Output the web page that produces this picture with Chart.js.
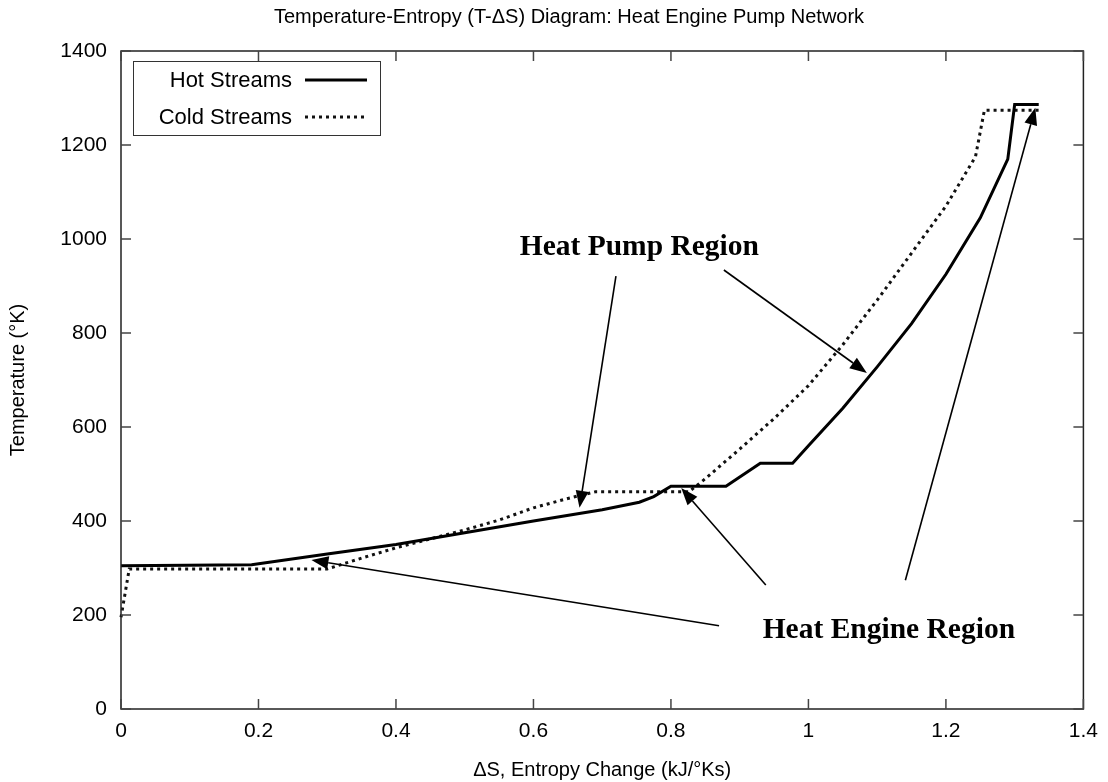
<!DOCTYPE html>
<html><head><meta charset="utf-8">
<script src="https://cdn.jsdelivr.net/npm/chart.js@4/dist/chart.umd.min.js"></script>
<style>html,body{margin:0;padding:0;background:#fff}#wrap{width:1108px;height:782px}</style>
</head><body><div id="wrap"><canvas id="c" width="1108" height="782"></canvas></div>
<script>
// ---- data ----
const seriesNames = ['Hot Streams', 'Cold Streams'];
const hotS = [0, 0.19, 0.3, 0.4, 0.5, 0.6, 0.7, 0.754, 0.775, 0.8, 0.88, 0.93, 0.977, 1.0, 1.05, 1.1, 1.15, 1.2, 1.25, 1.29, 1.30, 1.335];
const hotT = [305, 307, 330, 350, 375, 400, 424, 440, 452, 474, 474, 523, 523, 560, 640, 728, 820, 925, 1045, 1170, 1286, 1286];
const coldS = [0, 0.012, 0.3, 0.35, 0.4, 0.45, 0.5, 0.55, 0.6, 0.65, 0.69, 0.826, 0.85, 0.9, 0.95, 1.0, 1.05, 1.1, 1.15, 1.2, 1.243, 1.256, 1.335];
const coldT = [195, 298, 298, 321, 343, 362, 381, 402, 428, 448, 462, 462, 490, 553, 618, 688, 775, 870, 970, 1070, 1175, 1274, 1274];
const xTicks = [0, 0.2, 0.4, 0.6, 0.8, 1.0, 1.2, 1.4];
const xTickLabels = ['0', '0.2', '0.4', '0.6', '0.8', '1', '1.2', '1.4'];
const yTicks = [0, 200, 400, 600, 800, 1000, 1200, 1400];
const yTickLabels = ['0', '200', '400', '600', '800', '1000', '1200', '1400'];
const chartTitle = 'Temperature-Entropy (T-\u0394S) Diagram: Heat Engine Pump Network';
const xTitle = '\u0394S, Entropy Change (kJ/\u00B0Ks)';
const yTitle = 'Temperature (\u00B0K)';
// annotation labels & arrows (in data coordinates)
const noteLabels = [
  {text: 'Heat Pump Region', s: 0.754, t: 983},
  {text: 'Heat Engine Region', s: 1.117, t: 168}
];
const noteArrows = [
  {from: [0.720, 921], to: [0.667, 428]},
  {from: [0.877, 934], to: [1.085, 715]},
  {from: [0.870, 177], to: [0.277, 317]},
  {from: [0.938, 264], to: [0.815, 470]},
  {from: [1.141, 274], to: [1.330, 1279]}
];

const SANS = '"Liberation Sans", Arial, Helvetica, sans-serif';
const SERIF = '"Liberation Serif", "Times New Roman", serif';
const FS = 21;

const framePlugin = {
  id: 'frame',
  afterDatasetsDraw(chart) {
    const {ctx, chartArea: a, scales: {x, y}} = chart;
    ctx.save();
    // title
    ctx.font = '20px ' + SANS;
    ctx.fillStyle = '#000';
    ctx.textAlign = 'center';
    ctx.textBaseline = 'middle';
    ctx.fillText(chartTitle, 569, 17);
    // frame
    ctx.strokeStyle = '#222';
    ctx.lineWidth = 1.5;
    ctx.strokeRect(a.left, a.top, a.right - a.left, a.bottom - a.top);
    // inward ticks on all sides
    ctx.strokeStyle = '#444';
    ctx.lineWidth = 1.5;
    ctx.beginPath();
    const TL = 10;
    xTicks.forEach(v => {
      const px = x.getPixelForValue(v);
      ctx.moveTo(px, a.bottom); ctx.lineTo(px, a.bottom - TL);
      ctx.moveTo(px, a.top); ctx.lineTo(px, a.top + TL);
    });
    yTicks.forEach(v => {
      const py = y.getPixelForValue(v);
      ctx.moveTo(a.left, py); ctx.lineTo(a.left + TL, py);
      ctx.moveTo(a.right, py); ctx.lineTo(a.right - TL, py);
    });
    ctx.stroke();

    // legend
    const lx = a.left + 12, ly = a.top + 10, lw = 247, lh = 74;
    ctx.fillStyle = '#fff';
    ctx.fillRect(lx, ly, lw, lh);
    ctx.strokeStyle = '#333';
    ctx.lineWidth = 1;
    ctx.strokeRect(lx + 0.5, ly + 0.5, lw, lh);
    ctx.font = '22px ' + SANS;
    ctx.fillStyle = '#000';
    ctx.textAlign = 'right';
    ctx.textBaseline = 'middle';
    const rows = [ly + 19, ly + 56];
    chart.data.datasets.forEach((ds, i) => {
      ctx.fillText(ds.label, lx + 159, rows[i] + 1);
      ctx.save();
      ctx.strokeStyle = ds.borderColor;
      ctx.lineWidth = ds.borderWidth;
      ctx.setLineDash(ds.borderDash || []);
      ctx.beginPath();
      ctx.moveTo(lx + 172, rows[i]);
      ctx.lineTo(lx + 234, rows[i]);
      ctx.stroke();
      ctx.restore();
    });

    // annotations
    ctx.font = 'bold 29.5px ' + SERIF;
    ctx.textAlign = 'center';
    ctx.textBaseline = 'middle';
    ctx.fillStyle = '#000';
    noteLabels.forEach(n => ctx.fillText(n.text, x.getPixelForValue(n.s), y.getPixelForValue(n.t)));
    ctx.strokeStyle = '#000';
    ctx.lineWidth = 1.6;
    noteArrows.forEach(ar => {
      const x0 = x.getPixelForValue(ar.from[0]), y0 = y.getPixelForValue(ar.from[1]);
      const x1 = x.getPixelForValue(ar.to[0]), y1 = y.getPixelForValue(ar.to[1]);
      const ang = Math.atan2(y1 - y0, x1 - x0);
      const hl = 17, hw = 6.5;
      const bx = x1 - hl * Math.cos(ang), by = y1 - hl * Math.sin(ang);
      ctx.beginPath();
      ctx.moveTo(x0, y0); ctx.lineTo(bx, by);
      ctx.stroke();
      ctx.beginPath();
      ctx.moveTo(x1, y1);
      ctx.lineTo(bx + hw * Math.sin(ang), by - hw * Math.cos(ang));
      ctx.lineTo(bx - hw * Math.sin(ang), by + hw * Math.cos(ang));
      ctx.closePath();
      ctx.fill();
    });
    ctx.restore();
  }
};

new Chart(document.getElementById('c'), {
  type: 'line',
  data: {
    datasets: [
      {
        label: seriesNames[0],
        data: hotS.map((s, i) => ({x: s, y: hotT[i]})),
        borderColor: '#000', borderWidth: 3, pointRadius: 0, tension: 0, fill: false
      },
      {
        label: seriesNames[1],
        data: coldS.map((s, i) => ({x: s, y: coldT[i]})),
        borderColor: '#111', borderWidth: 3, borderDash: [3, 4], pointRadius: 0, tension: 0, fill: false
      }
    ]
  },
  options: {
    responsive: false,
    animation: false,
    clip: false,
    layout: {padding: {left: 0, right: 23, top: 51, bottom: 0}},
    plugins: {
      legend: {display: false},
      tooltip: {enabled: false},
      title: {display: false}
    },
    scales: {
      x: {
        type: 'linear', min: 0, max: 1.4,
        afterBuildTicks: s => { s.ticks = xTicks.map(v => ({value: v})); },
        afterFit: s => { s.height = 73; },
        grid: {display: false, drawTicks: false},
        border: {display: false},
        ticks: {
          callback: (v, i) => xTickLabels[i], color: '#000',
          font: {family: SANS, size: FS}, padding: 10, maxRotation: 0, autoSkip: false
        },
        title: {
          display: true, text: xTitle, color: '#000',
          font: {family: SANS, size: 20}, padding: {top: 0, bottom: 0}
        }
      },
      y: {
        type: 'linear', min: 0, max: 1400,
        afterBuildTicks: s => { s.ticks = yTicks.map(v => ({value: v})); },
        afterFit: s => { s.width = 121; },
        grid: {display: false, drawTicks: false},
        border: {display: false},
        ticks: {
          callback: (v, i) => yTickLabels[i], color: '#000',
          font: {family: SANS, size: FS}, padding: 14, autoSkip: false
        },
        title: {
          display: true, text: yTitle, color: '#000',
          font: {family: SANS, size: 20}, padding: {top: 6, bottom: 0}
        }
      }
    }
  },
  plugins: [framePlugin]
});
</script>
</body></html>
